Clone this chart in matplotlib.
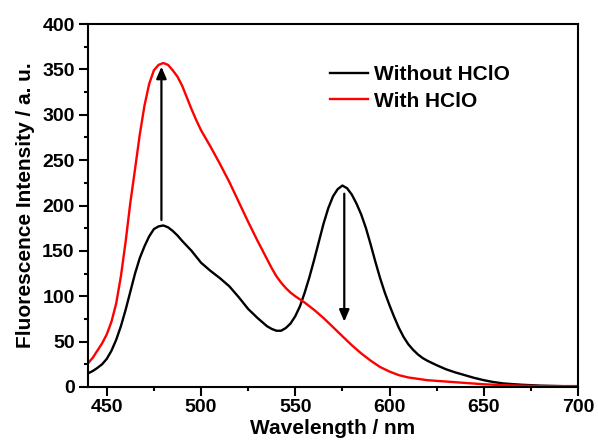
import numpy as np
import matplotlib
matplotlib.use('Agg')
import matplotlib.pyplot as plt

# ── Data ──────────────────────────────────────────────────
wl_without = [440, 442.5, 445, 447.5, 450, 452.5, 455, 457.5, 460, 462.5, 465,
              467.5, 470, 472.5, 475, 477.5, 480, 482.5, 485, 487.5, 490, 495,
              500, 505, 510, 515, 520, 525, 530, 535, 537.5, 540, 542.5, 545,
              547.5, 550, 552.5, 555, 557.5, 560, 562.5, 565, 567.5, 570,
              572.5, 575, 577.5, 580, 582.5, 585, 587.5, 590, 592.5, 595,
              597.5, 600, 602.5, 605, 607.5, 610, 612.5, 615, 617.5, 620,
              625, 630, 635, 640, 645, 650, 655, 660, 665, 670, 675, 680, 690,
              700]
fl_without = [15, 17.5, 21, 25, 31, 40, 52, 67, 85, 105, 125,
              142, 155, 166, 174, 177, 178, 176, 172, 167, 161, 150,
              137, 128, 120, 111, 99, 86, 76, 67, 64, 62, 62, 65,
              70, 78, 89, 104, 121, 140, 160, 180, 197, 210,
              218, 222, 219, 212, 202, 190, 175, 157, 138, 120,
              104, 90, 77, 65, 55, 47, 41, 36, 32, 29,
              24, 19.5, 16, 13, 10, 7.5, 5.5, 4, 3.2, 2.5, 2, 1.5, 1,
              0.5]

wl_with = [440, 442.5, 445, 447.5, 450, 452.5, 455, 457.5, 460, 462.5, 465,
           467.5, 470, 472.5, 475, 477.5, 480, 482.5, 485, 487.5, 490, 492.5,
           495, 497.5, 500, 505, 510, 515, 520, 525, 530, 535, 537.5, 540,
           542.5, 545, 547.5, 550, 555, 560, 565, 570, 575, 580, 585, 590,
           595, 600, 605, 610, 615, 620, 630, 640, 650, 660, 680, 700]
fl_with = [26, 32, 40, 48, 58, 72, 92, 122, 160, 203, 240,
           278, 310, 334, 349, 355, 357, 355, 349, 342, 332, 319,
           306, 294, 283, 265, 246, 226, 204, 182, 161, 141, 131, 122,
           115, 109, 104, 100, 93, 85, 76, 66, 56, 46, 37, 29,
           22, 17, 13, 10.5, 9, 7.5, 6, 4.5, 3, 2, 1, 1]

labels = ['Without HClO', 'With HClO']

# arrows: (x, start, end)
arrow_up   = (479, 184, 353)
arrow_down = (576, 213, 72)

# ── Plot ──────────────────────────────────
plt.rcParams['font.family'] = ['Liberation Sans', 'DejaVu Sans']
plt.rcParams['font.weight'] = 'bold'

fig = plt.figure(figsize=(5.98, 4.44), dpi=100)
ax = fig.add_axes([0.147, 0.1284, 0.8196, 0.8175])

ax.plot(wl_without, fl_without, color='black', lw=1.7, label=labels[0])
ax.plot(wl_with, fl_with, color='red', lw=1.7, label=labels[1])

for x, y0, y1 in (arrow_up, arrow_down):
    ax.annotate('', xy=(x, y1), xytext=(x, y0),
                arrowprops=dict(arrowstyle='-|>,head_length=0.7,head_width=0.3',
                                color='black', lw=1.6, shrinkA=0, shrinkB=0))

ax.set_xlim(440, 700)
ax.set_ylim(0, 400)
ax.set_xticks(np.arange(450, 701, 50))
ax.set_xticks(np.arange(475, 700, 50), minor=True)
ax.set_yticks(np.arange(0, 401, 50))
ax.set_yticks(np.arange(25, 400, 50), minor=True)

for s in ax.spines.values():
    s.set_linewidth(1.5)
ax.tick_params(which='major', direction='out', length=6.5, width=1.5,
               labelsize=14, pad=2)
ax.tick_params(which='minor', direction='out', length=3, width=1.5)
ax.tick_params(axis='y', which='major', pad=3)

ax.set_xlabel('Wavelength / nm', fontsize=15, fontweight='bold', labelpad=2)
ax.set_ylabel('Fluorescence Intensity / a. u.', fontsize=15,
              fontweight='bold', labelpad=5)

ax.legend(loc='upper left', bbox_to_anchor=(0.494, 0.886), frameon=False,
          handlelength=1.8, handletextpad=0.3,
          labelspacing=0.35, borderpad=0, borderaxespad=0,
          prop={'weight': 'bold', 'size': 15})

fig.savefig('out.png', dpi=100)
